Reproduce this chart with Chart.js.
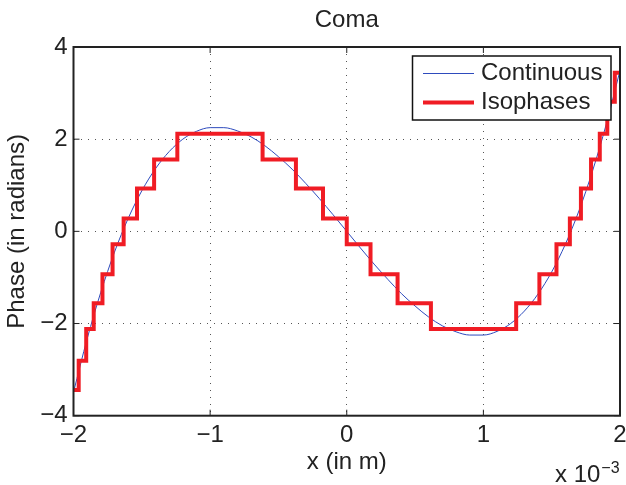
<!DOCTYPE html>
<html>
<head>
<meta charset="utf-8">
<script src="https://cdn.jsdelivr.net/npm/chart.js@4/dist/chart.umd.min.js"></script>
<style>
  html, body { margin: 0; padding: 0; background: #fff; }
</style>
</head>
<body>
<div style="width:626px;height:485px"><canvas id="coma" width="626" height="485"></canvas></div>
<script>
// x is in units of 1e-3 m (axis shows the "x 10^-3" multiplier)
const contX = [-2.0, -1.9, -1.8, -1.7, -1.6, -1.5, -1.4, -1.3, -1.2, -1.1, -1.0,
               -0.9, -0.8, -0.7, -0.6, -0.5, -0.4, -0.3, -0.2, -0.1, 0.0,
               0.1, 0.2, 0.3, 0.4, 0.5, 0.6, 0.7, 0.8, 0.9, 1.0,
               1.1, 1.2, 1.3, 1.4, 1.5, 1.6, 1.7, 1.8, 1.9, 2.0];
const contPhase = [-3.49, -2.33, -1.32, -0.45, 0.28, 0.88, 1.36, 1.73, 2.00, 2.17, 2.25,
                   2.25, 2.18, 2.05, 1.86, 1.62, 1.35, 1.04, 0.71, 0.36, 0.00,
                   -0.36, -0.71, -1.04, -1.35, -1.62, -1.86, -2.05, -2.18, -2.25, -2.25,
                   -2.17, -2.00, -1.73, -1.36, -0.88, -0.28, 0.45, 1.32, 2.33, 3.49];

// isophase levels, each held from its x until the next x
const isoX = [-2.0, -1.962, -1.907, -1.852, -1.788, -1.714, -1.633, -1.535, -1.41, -1.24,
              -0.616, -0.372, -0.174, 0.0, 0.174, 0.372, 0.616,
              1.24, 1.41, 1.535, 1.633, 1.714, 1.788, 1.852, 1.907, 1.962, 2.0];
const isoPhase = [-3.44, -2.81, -2.12, -1.56, -0.93, -0.28, 0.28, 0.93, 1.56, 2.12,
                  1.56, 0.93, 0.28, -0.28, -0.93, -1.56, -2.12,
                  -1.56, -0.93, -0.28, 0.28, 0.93, 1.56, 2.12, 2.81, 3.44, 3.44];

const xTicks = [-2, -1, 0, 1, 2];
const yTicks = [-4, -2, 0, 2, 4];
const seriesNames = ['Continuous', 'Isophases'];
const titleText = 'Coma';
const xTitle = 'x (in m)';
const yTitle = 'Phase (in radians)';
const xMultiplier = 'x 10';
const xExponent = '\u22123';

const FONT = "'Liberation Sans', Arial, Helvetica, sans-serif";
const INK = '#222';

function fmt(v) {
  return v < 0 ? '\u2212' + Math.abs(v) : String(v);
}

// matlab style: box, inward ticks, title, exponent and legend inside the axes
const matlabLook = {
  id: 'matlabLook',
  afterDraw(chart) {
    const ctx = chart.ctx;
    const a = chart.chartArea;
    const xs = chart.scales.x, ys = chart.scales.y;
    ctx.save();

    ctx.strokeStyle = INK;
    ctx.lineWidth = 1;
    ctx.beginPath();
    xTicks.forEach(v => {
      const px = xs.getPixelForValue(v);
      ctx.moveTo(px, a.bottom); ctx.lineTo(px, a.bottom - 6);
      ctx.moveTo(px, a.top); ctx.lineTo(px, a.top + 6);
    });
    yTicks.forEach(v => {
      const py = ys.getPixelForValue(v);
      ctx.moveTo(a.left, py); ctx.lineTo(a.left + 6, py);
      ctx.moveTo(a.right, py); ctx.lineTo(a.right - 6, py);
    });
    ctx.stroke();

    ctx.lineWidth = 2;
    ctx.strokeRect(a.left, a.top, a.right - a.left, a.bottom - a.top);

    ctx.fillStyle = INK;
    ctx.font = '24px ' + FONT;
    ctx.textAlign = 'center';
    ctx.textBaseline = 'middle';
    ctx.fillText(titleText, (a.left + a.right) / 2, 20);

    ctx.textAlign = 'left';
    ctx.textBaseline = 'alphabetic';
    ctx.fillText(xMultiplier, 555, 482);
    const w = ctx.measureText(xMultiplier).width;
    ctx.font = '16px ' + FONT;
    ctx.fillText(xExponent, 555 + w + 1, 473);

    // legend
    const bx = 412.5, by = 56, bw = 198.5, bh = 64;
    ctx.fillStyle = '#fff';
    ctx.fillRect(bx, by, bw, bh);
    ctx.strokeStyle = '#111';
    ctx.lineWidth = 1.5;
    ctx.strokeRect(bx, by, bw, bh);
    ctx.font = '24px ' + FONT;
    ctx.textBaseline = 'middle';
    chart.data.datasets.forEach((ds, i) => {
      const ly = 73.5 + i * 29;
      ctx.strokeStyle = ds.borderColor;
      ctx.lineWidth = ds.borderWidth;
      ctx.beginPath();
      ctx.moveTo(423, ly); ctx.lineTo(474, ly);
      ctx.stroke();
      ctx.fillStyle = INK;
      ctx.fillText(ds.label, 481, ly);
    });
    ctx.restore();
  }
};

new Chart(document.getElementById('coma'), {
  type: 'line',
  data: {
    datasets: [{
      label: seriesNames[0],
      data: contX.map((v, i) => ({x: v, y: contPhase[i]})),
      borderColor: '#2e4bbd',
      borderWidth: 1,
      pointRadius: 0,
      cubicInterpolationMode: 'monotone',
      order: 2
    }, {
      label: seriesNames[1],
      data: isoX.map((v, i) => ({x: v, y: isoPhase[i]})),
      borderColor: '#f01c24',
      borderWidth: 4,
      pointRadius: 0,
      stepped: 'before',
      borderJoinStyle: 'miter',
      borderCapStyle: 'butt',
      order: 1
    }]
  },
  options: {
    responsive: false,
    animation: false,
    layout: {padding: {top: 47, right: 6, left: 0, bottom: 0}},
    plugins: {legend: {display: false}, tooltip: {enabled: false}},
    scales: {
      x: {
        type: 'linear',
        min: -2, max: 2,
        afterFit: s => { s.height = 69.3; s.paddingLeft = 0; s.paddingRight = 0; },
        ticks: {stepSize: 1, maxRotation: 0, padding: 5, color: INK,
                font: {family: FONT, size: 24}, callback: fmt},
        grid: {color: '#555', lineWidth: 1, drawTicks: false},
        border: {display: false, dash: [1, 6]},
        title: {display: true, text: xTitle, color: INK,
                font: {family: FONT, size: 24}, padding: {top: 0, bottom: 8}}
      },
      y: {
        type: 'linear',
        min: -4, max: 4,
        afterFit: s => { s.width = 73.5; },
        ticks: {stepSize: 2, padding: 6, color: INK,
                font: {family: FONT, size: 24}, callback: fmt},
        grid: {color: '#555', lineWidth: 1, drawTicks: false},
        border: {display: false, dash: [1, 6]},
        title: {display: true, text: yTitle, color: INK,
                font: {family: FONT, size: 24}, padding: {top: 3, bottom: 0}}
      }
    }
  },
  plugins: [matlabLook]
});
</script>
</body>
</html>
